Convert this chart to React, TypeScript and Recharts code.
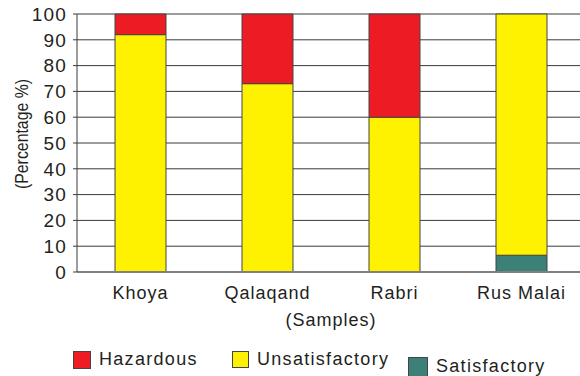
import { BarChart, Bar, XAxis, YAxis, CartesianGrid } from "recharts";

const samples = ["Khoya", "Qalaqand", "Rabri", "Rus Malai"];
const satisfactory = [0, 0, 0, 6.5];
const unsatisfactory = [92, 73, 60, 93.5];
const hazardous = [8, 27, 40, 0];
const yTicks = [0, 10, 20, 30, 40, 50, 60, 70, 80, 90, 100];

const data = samples.map((name, i) => ({
  name,
  satisfactory: satisfactory[i],
  unsatisfactory: unsatisfactory[i],
  hazardous: hazardous[i],
}));

const font = "'Liberation Sans', Arial, sans-serif";
const textColor = "#231f20";

const legendItems = [
  { label: "Hazardous", color: "#ed1c24", x: 73, y: 349, box: 16 },
  { label: "Unsatisfactory", color: "#fff200", x: 232, y: 349, box: 15 },
  { label: "Satisfactory", color: "#3d8077", x: 408, y: 356, box: 18 },
];

export default function App() {
  return (
    <div style={{ position: "absolute", left: 0, top: 0, width: 580, height: 376, overflow: "hidden", background: "#fff", fontFamily: font }}>
      <BarChart
        width={592}
        height={376}
        data={data}
        margin={{ top: 14, right: 7, left: 0, bottom: 0 }}
        barSize={51}
      >
        <CartesianGrid vertical={false} stroke="#3a3a3a" strokeWidth={1} />
        <XAxis
          dataKey="name"
          height={104}
          axisLine={{ stroke: "#808080", strokeWidth: 2 }}
          tickLine={false}
          tick={{ fill: textColor, fontSize: 18, fontFamily: font, letterSpacing: 1 }}
          tickMargin={8}
          label={{ value: "(Samples)", position: "insideTop", offset: 41, fill: textColor, fontSize: 18, fontFamily: font, letterSpacing: 1 }}
        />
        <YAxis
          width={77}
          domain={[0, 100]}
          ticks={yTicks}
          interval={0}
          axisLine={{ stroke: "#3a3a3a" }}
          tickLine={{ stroke: "#3a3a3a" }}
          tickSize={4}
          tickMargin={6}
          tick={{ fill: textColor, fontSize: 19, fontFamily: font, letterSpacing: 1.2 }}
        />
        <Bar dataKey="satisfactory" stackId="a" fill="#3d8077" stroke="#444" strokeWidth={1} isAnimationActive={false} />
        <Bar dataKey="unsatisfactory" stackId="a" fill="#fff200" stroke="#444" strokeWidth={1} isAnimationActive={false} />
        <Bar dataKey="hazardous" stackId="a" fill="#ed1c24" stroke="#444" strokeWidth={1} isAnimationActive={false} />
      </BarChart>
      <div
        style={{
          position: "absolute",
          left: 22,
          top: 134,
          transform: "translate(-50%, -50%) rotate(-90deg) scaleX(0.88)",
          whiteSpace: "nowrap",
          color: textColor,
          fontSize: 18,
          lineHeight: "20px",
        }}
      >
        (Percentage %)
      </div>
      {legendItems.map((item) => (
        <div key={item.label} style={{ position: "absolute", left: item.x, top: item.y, display: "flex", alignItems: "center", color: textColor, fontSize: 18, letterSpacing: 1.3 }}>
          <span style={{ display: "inline-block", width: item.box, height: item.box, background: item.color, border: "1px solid #444", marginRight: 8 }} />
          {item.label}
        </div>
      ))}
    </div>
  );
}
